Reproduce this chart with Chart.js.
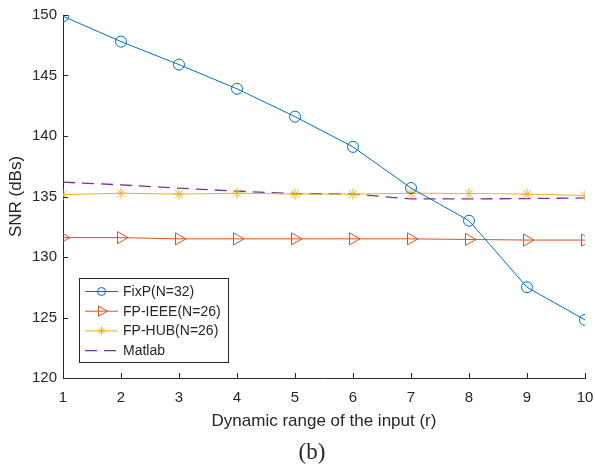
<!DOCTYPE html>
<html>
<head>
<meta charset="utf-8">
<script src="https://cdn.jsdelivr.net/npm/chart.js@4.4.6/dist/chart.umd.js"></script>
<style>
  html, body { margin: 0; padding: 0; background: #fff; }
  #wrap { width: 595px; height: 466px; }
</style>
</head>
<body>
<div id="wrap"><canvas id="snrChart" width="595" height="466"></canvas></div>
<script>
const rangeR = [1, 2, 3, 4, 5, 6, 7, 8, 9, 10];
const fixP = [149.9, 147.8, 145.9, 143.9, 141.6, 139.1, 135.7, 133.0, 127.5, 124.8];
const fpIeee = [131.6, 131.6, 131.5, 131.5, 131.5, 131.5, 131.5, 131.45, 131.4, 131.4];
const fpHub = [135.15, 135.27, 135.2, 135.27, 135.2, 135.2, 135.27, 135.25, 135.2, 135.08];
const matlab = [136.18, 135.96, 135.69, 135.44, 135.25, 135.2, 134.8, 134.8, 134.83, 134.88];
const yTicks = [120, 125, 130, 135, 140, 145, 150];

const ink = '#262626';
const blue = '#0072BD';
const orange = '#D95319';
const yellow = '#EDB120';
const purple = '#7E2F8E';

const toXY = (vals) => vals.map((v, i) => ({ x: rangeR[i], y: v }));

const series = [
  { label: 'FixP(N=32)', data: fixP, color: blue, style: 'circle', radius: 5.5, legendR: 4, rot: 0 },
  { label: 'FP-IEEE(N=26)', data: fpIeee, color: orange, style: 'triangle', radius: 7, legendR: 6, rot: 90 },
  { label: 'FP-HUB(N=26)', data: fpHub, color: yellow, style: 'star', radius: 5.5, legendR: 4.5, rot: 0 },
  { label: 'Matlab', data: matlab, color: purple, style: false, radius: 0, legendR: 0, rot: 0, dash: [12, 7] }
];

// inward tick marks, matlab style
const innerTicks = {
  id: 'innerTicks',
  afterDraw(chart) {
    const { ctx, chartArea, scales } = chart;
    ctx.save();
    ctx.strokeStyle = ink;
    ctx.lineWidth = 1;
    ctx.beginPath();
    scales.x.ticks.forEach((t) => {
      const px = Math.round(scales.x.getPixelForValue(t.value)) + 0.5;
      ctx.moveTo(px, chartArea.bottom);
      ctx.lineTo(px, chartArea.bottom - 5);
    });
    scales.y.ticks.forEach((t) => {
      const py = Math.round(scales.y.getPixelForValue(t.value)) + 0.5;
      ctx.moveTo(chartArea.left, py);
      ctx.lineTo(chartArea.left + 5, py);
    });
    ctx.stroke();
    ctx.restore();
  }
};

// boxed legend in the lower left, plus the (b) caption
const boxLegend = {
  id: 'boxLegend',
  afterDraw(chart) {
    const { ctx } = chart;
    const bx = 79.5, by = 278.5, bw = 149, bh = 84;
    ctx.save();
    ctx.fillStyle = '#fff';
    ctx.fillRect(bx, by, bw, bh);
    ctx.strokeStyle = ink;
    ctx.lineWidth = 1;
    ctx.strokeRect(bx, by, bw, bh);
    ctx.font = '14px "Liberation Sans", Arial, sans-serif';
    ctx.textBaseline = 'middle';
    chart.data.datasets.forEach((ds, i) => {
      const y = 291.5 + i * 19.7;
      ctx.strokeStyle = ds.borderColor;
      ctx.lineWidth = ds.borderWidth;
      ctx.setLineDash(ds.borderDash || []);
      ctx.beginPath();
      ctx.moveTo(85, y);
      ctx.lineTo(118, y);
      ctx.stroke();
      ctx.setLineDash([]);
      if (ds.pointStyle) {
        ctx.fillStyle = 'rgba(0,0,0,0)';
        ctx.strokeStyle = ds.borderColor;
        ctx.lineWidth = 1;
        Chart.helpers.drawPoint(ctx, {
          pointStyle: ds.pointStyle,
          radius: series[i].legendR,
          rotation: ds.pointRotation,
          borderWidth: 1
        }, 101.5, y);
      }
      ctx.fillStyle = ink;
      ctx.fillText(ds.label, 123, y + 0.5);
    });
    ctx.font = '23px "Liberation Serif", "DejaVu Serif", serif';
    ctx.textAlign = 'center';
    ctx.fillStyle = ink;
    ctx.fillText('(b)', 312, 453);
    ctx.restore();
  }
};

new Chart(document.getElementById('snrChart'), {
  type: 'line',
  data: {
    datasets: series.map((s) => ({
      label: s.label,
      data: toXY(s.data),
      borderColor: s.color,
      backgroundColor: 'transparent',
      borderWidth: s.dash ? 1.3 : 1,
      borderDash: s.dash || [],
      pointStyle: s.style,
      pointRadius: s.radius,
      pointRotation: s.rot,
      pointBorderColor: s.color,
      pointBackgroundColor: 'transparent',
      pointBorderWidth: 1,
      tension: 0,
      fill: false
    }))
  },
  options: {
    responsive: false,
    animation: false,
    devicePixelRatio: 1,
    layout: { padding: { top: 14, right: 0, left: 0, bottom: 0 } },
    plugins: {
      legend: { display: false },
      tooltip: { enabled: false }
    },
    scales: {
      x: {
        type: 'linear',
        min: 1,
        max: 10,
        afterFit: (scale) => { scale.height = 88; scale.paddingRight = 10; },
        ticks: {
          stepSize: 1,
          padding: 11,
          color: ink,
          font: { family: '"Liberation Sans", Arial, sans-serif', size: 15 }
        },
        grid: { display: false, drawTicks: false },
        border: { display: true, color: ink, width: 1 },
        title: {
          display: true,
          text: 'Dynamic range of the input (r)',
          color: ink,
          font: { family: '"Liberation Sans", Arial, sans-serif', size: 17 },
          padding: { top: 2, bottom: 34 }
        }
      },
      y: {
        min: 120,
        max: 150,
        afterFit: (scale) => { scale.width = 63; },
        afterBuildTicks: (scale) => { scale.ticks = yTicks.map((v) => ({ value: v })); },
        ticks: {
          padding: 6,
          color: ink,
          font: { family: '"Liberation Sans", Arial, sans-serif', size: 15 }
        },
        grid: { display: false, drawTicks: false },
        border: { display: true, color: ink, width: 1 },
        title: {
          display: true,
          text: 'SNR (dBs)',
          color: ink,
          font: { family: '"Liberation Sans", Arial, sans-serif', size: 17 },
          padding: { top: 6, bottom: 0 }
        }
      }
    }
  },
  plugins: [innerTicks, boxLegend]
});
</script>
</body>
</html>
